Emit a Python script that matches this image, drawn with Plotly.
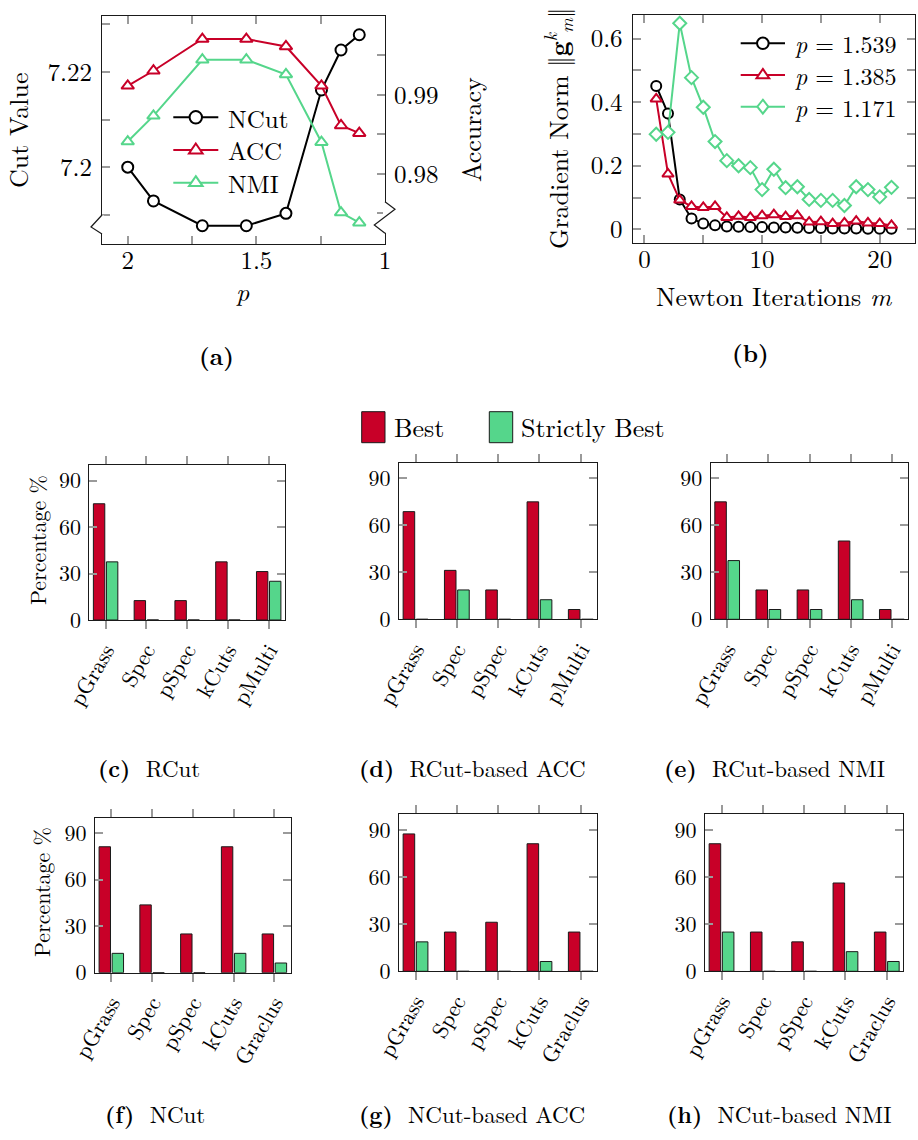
import plotly.graph_objects as go

W, H = 918, 1140
FONT = "Latin Modern Roman"
RED = "#C80028"
GREEN = "#55D68B"
FRAME = "#1a1a1a"
TICKC = "#9a9a9a"

# ---------------- data: panel (a) ----------------
p_vals = [2.0, 1.9, 1.71, 1.539, 1.385, 1.247, 1.171, 1.1]
ncut_vals = [7.2000, 7.1929, 7.1877, 7.1877, 7.1903, 7.2162, 7.2246, 7.2278]
acc_vals = [0.99114, 0.99304, 0.99705, 0.99705, 0.99611, 0.99114, 0.98612, 0.98515]
nmi_vals = [0.98409, 0.98734, 0.99443, 0.99443, 0.99257, 0.98401, 0.97511, 0.97384]

# ---------------- data: panel (b) ----------------
iters = list(range(1, 22))
g_p1539 = [0.451, 0.364, 0.094, 0.034, 0.018, 0.0125, 0.009, 0.008, 0.007, 0.007, 0.006,
           0.006, 0.005, 0.004, 0.004, 0.003, 0.003, 0.003, 0.002, 0.002, 0.002]
g_p1385 = [0.41, 0.174, 0.092, 0.072, 0.069, 0.072, 0.0375, 0.041, 0.0375, 0.043, 0.046,
           0.04, 0.043, 0.023, 0.024, 0.018, 0.02, 0.026, 0.02, 0.018, 0.0125]
g_p1171 = [0.299, 0.305, 0.648, 0.477, 0.384, 0.276, 0.216, 0.2, 0.194, 0.125, 0.189,
           0.131, 0.134, 0.094, 0.091, 0.091, 0.075, 0.134, 0.125, 0.102, 0.132]

# ---------------- data: bar panels ----------------
methods_r = ["pGrass", "Spec", "pSpec", "kCuts", "pMulti"]
methods_n = ["pGrass", "Spec", "pSpec", "kCuts", "Graclus"]
rcut_best = [75, 12.5, 12.5, 37.5, 31.25]
rcut_strict = [37.5, 0, 0, 0, 25]
racc_best = [68.75, 31.25, 18.75, 75, 6.25]
racc_strict = [0, 18.75, 0, 12.5, 0]
rnmi_best = [75, 18.75, 18.75, 50, 6.25]
rnmi_strict = [37.5, 6.25, 6.25, 12.5, 0]
ncut_best = [81.25, 43.75, 25, 81.25, 25]
ncut_strict = [12.5, 0, 0, 12.5, 6.25]
nacc_best = [87.5, 25, 31.25, 81.25, 25]
nacc_strict = [18.75, 0, 0, 6.25, 0]
nnmi_best = [81.25, 25, 18.75, 56.25, 25]
nnmi_strict = [25, 0, 0, 12.5, 6.25]


def fx(x):
    return x / W


def fy(y):
    return 1 - y / H


def dx(x0, x1):
    return [x0 / W, x1 / W]


def dy(y0, y1):
    return [1 - y1 / H, 1 - y0 / H]


fig = go.Figure()

# ---------------- panel (a) traces ----------------
fig.add_trace(go.Scatter(x=p_vals, y=ncut_vals, name="NCut", mode="lines+markers",
                         line=dict(color="black", width=2),
                         marker=dict(symbol="circle", size=11, color="white",
                                     line=dict(color="black", width=2)),
                         xaxis="x", yaxis="y", showlegend=False))
fig.add_trace(go.Scatter(x=p_vals, y=acc_vals, name="ACC", mode="lines+markers",
                         line=dict(color=RED, width=2),
                         marker=dict(symbol="triangle-up", size=11, color="white",
                                     line=dict(color=RED, width=2)),
                         xaxis="x", yaxis="y2", showlegend=False))
fig.add_trace(go.Scatter(x=p_vals, y=nmi_vals, name="NMI", mode="lines+markers",
                         line=dict(color=GREEN, width=2),
                         marker=dict(symbol="triangle-up", size=11, color="white",
                                     line=dict(color=GREEN, width=2)),
                         xaxis="x", yaxis="y2", showlegend=False))

# ---------------- panel (b) traces ----------------
fig.add_trace(go.Scatter(x=iters, y=g_p1539, name="p = 1.539", mode="lines+markers",
                         line=dict(color="black", width=2),
                         marker=dict(symbol="circle", size=10, color="white",
                                     line=dict(color="black", width=2)),
                         xaxis="x2", yaxis="y3", showlegend=False))
fig.add_trace(go.Scatter(x=iters, y=g_p1385, name="p = 1.385", mode="lines+markers",
                         line=dict(color=RED, width=2),
                         marker=dict(symbol="triangle-up", size=10, color="white",
                                     line=dict(color=RED, width=2)),
                         xaxis="x2", yaxis="y3", showlegend=False))
fig.add_trace(go.Scatter(x=iters, y=g_p1171, name="p = 1.171", mode="lines+markers",
                         line=dict(color=GREEN, width=2),
                         marker=dict(symbol="diamond", size=10, color="white",
                                     line=dict(color=GREEN, width=2)),
                         xaxis="x2", yaxis="y3", showlegend=False))

# ---------------- bar panels ----------------
bar_panels = [
    (methods_r, rcut_best, rcut_strict, (89.3, 285.0), (465.0, 620.0)),
    (methods_r, racc_best, racc_strict, (399.0, 597.3), (462.7, 619.3)),
    (methods_r, rnmi_best, rnmi_strict, (710.7, 908.3), (462.7, 619.3)),
    (methods_n, ncut_best, ncut_strict, (95.0, 290.7), (817.7, 972.7)),
    (methods_n, nacc_best, nacc_strict, (399.0, 597.3), (814.3, 971.3)),
    (methods_n, nnmi_best, nnmi_strict, (705.0, 903.3), (814.3, 971.3)),
]

BFS = 22
layout_axes = {}
for i, (cats, best, strict, xr, yr) in enumerate(bar_panels):
    xi = i + 3
    yi = i + 4
    fig.add_trace(go.Bar(x=cats, y=best, name="Best", showlegend=False,
                         marker=dict(color=RED, line=dict(color=FRAME, width=1)),
                         xaxis=f"x{xi}", yaxis=f"y{yi}"))
    fig.add_trace(go.Bar(x=cats, y=strict, name="Strictly Best", showlegend=False,
                         marker=dict(color=GREEN, line=dict(color=FRAME, width=1)),
                         xaxis=f"x{xi}", yaxis=f"y{yi}"))
    layout_axes[f"xaxis{xi}"] = dict(
        domain=dx(*xr), anchor=f"y{yi}", type="category", range=[-0.4, 4.4],
        automargin=False,
        showline=True, linecolor=FRAME, linewidth=1, mirror="allticks",
        ticks="outside", ticklen=8, tickcolor=TICKC, tickwidth=1.5,
        tickangle=-60, tickfont=dict(size=BFS, family=FONT, color="black"),
        showgrid=False, zeroline=False, fixedrange=True)
    layout_axes[f"yaxis{yi}"] = dict(
        domain=dy(*yr), anchor=f"x{xi}", range=[0, 100], automargin=False,
        tickvals=[0, 30, 60, 90], ticktext=["0", "30", "60", "90"],
        showline=True, linecolor=FRAME, linewidth=1, mirror="allticks",
        ticks="inside", ticklen=8, tickcolor=TICKC, tickwidth=1.5, ticklabelstandoff=3,
        tickfont=dict(size=BFS, family=FONT, color="black"),
        showgrid=False, zeroline=False, fixedrange=True)

# ---------------- axes (a) and (b) ----------------
TFS = 25
common_tick = dict(ticks="inside", ticklen=8, tickcolor=TICKC, tickwidth=1.5, automargin=False,
                   showgrid=False, zeroline=False, showline=True, linecolor=FRAME,
                   linewidth=1.2, tickfont=dict(size=TFS, family=FONT, color="black"))


def minor(vals):
    return dict(tickvals=vals, ticks="inside", ticklen=8, tickcolor=TICKC, tickwidth=1.5)


layout_axes["xaxis"] = dict(domain=dx(102, 385), anchor="y", range=[2.1, 1.0],
                            tickvals=[2, 1.5, 1], ticktext=["2", "1.5", "1"],
                            minor=minor([1.75, 1.25]), ticklabelstandoff=-6,
                            mirror="allticks", **common_tick)
layout_axes["yaxis"] = dict(domain=dy(15.7, 244.3), anchor="x", range=[7.1838, 7.2318],
                            tickvals=[7.2, 7.22], ticktext=["7.2", "7.22"], side="left",
                            minor=minor([7.19, 7.21, 7.23]), ticklabelstandoff=4,
                            mirror=False, **common_tick)
layout_axes["yaxis2"] = dict(anchor="x", overlaying="y", side="right", range=[0.9711, 1.0],
                             tickvals=[0.98, 0.99, 1.0], ticktext=["0.98", "0.99", "1"],
                             minor=minor([0.975, 0.985, 0.995]), ticklabelstandoff=3,
                             mirror=False, **common_tick)
layout_axes["xaxis2"] = dict(domain=dx(632.7, 915), anchor="y3", range=[-1, 23],
                             tickvals=[0, 10, 20], ticktext=["0", "10", "20"],
                             minor=minor([5, 15]), ticklabelstandoff=-6,
                             mirror="allticks", **common_tick)
layout_axes["yaxis3"] = dict(domain=dy(15, 242.7), anchor="x2", range=[-0.042, 0.674],
                             tickvals=[0, 0.2, 0.4, 0.6], ticktext=["0", "0.2", "0.4", "0.6"],
                             minor=minor([0.1, 0.3, 0.5]), ticklabelstandoff=4,
                             mirror="allticks", **common_tick)

# ---------------- annotations ----------------
ann = []


def text(x, y, s, size, angle=0, xanchor="center", yanchor="middle"):
    ann.append(dict(x=fx(x), y=fy(y), xref="paper", yref="paper", text=s, showarrow=False,
                    textangle=angle, xanchor=xanchor, yanchor=yanchor,
                    font=dict(size=size, family=FONT, color="black")))


text(17, 130, "Cut Value", 26, angle=-90)
text(470, 130, "Accuracy", 26, angle=-90)
text(243, 290, "<i>p</i>", 26)
text(557, 129, "Gradient Norm \u2016<b>g</b><sup><i>k</i></sup><sub><i>m</i></sub>\u2016", 26, angle=-90)
text(774, 295, "Newton Iterations <i>m</i>", 26)
text(216, 355, "<b>(a)</b>", 24)
text(750, 352, "<b>(b)</b>", 24)

text(391.7, 427, "Best", 26, xanchor="left")
text(519.3, 427, "Strictly Best", 26, xanchor="left")

text(37, 540, "Percentage %", BFS, angle=-90)
text(40, 892, "Percentage %", BFS, angle=-90)

text(96, 767, "<b>(c)</b>  RCut", 23, xanchor="left")
text(357, 767, "<b>(d)</b>  RCut-based ACC", 23, xanchor="left")
text(662, 767, "<b>(e)</b>  RCut-based NMI", 23, xanchor="left")
text(103, 1113, "<b>(f)</b>  NCut", 23, xanchor="left")
text(357, 1113, "<b>(g)</b>  NCut-based ACC", 23, xanchor="left")
text(665, 1113, "<b>(h)</b>  NCut-based NMI", 23, xanchor="left")

# ---------------- shapes: legend boxes and axis breaks ----------------
shapes = [
    dict(type="rect", xref="paper", yref="paper", x0=fx(361.7), x1=fx(385), y0=fy(442.7), y1=fy(411.7),
         fillcolor=RED, line=dict(color=FRAME, width=1)),
    dict(type="rect", xref="paper", yref="paper", x0=fx(489.3), x1=fx(512.7), y0=fy(442.7), y1=fy(411.7),
         fillcolor=GREEN, line=dict(color=FRAME, width=1)),
    # cover spine segments for the breaks
    dict(type="line", xref="paper", yref="paper", x0=fx(102), x1=fx(102), y0=fy(215.5), y1=fy(233.5),
         line=dict(color="white", width=4)),
    dict(type="line", xref="paper", yref="paper", x0=fx(385), x1=fx(385), y0=fy(202.2), y1=fy(232.8),
         line=dict(color="white", width=4)),
]


def path(points, close=False):
    s = "M " + " L ".join(f"{fx(a):.5f},{fy(b):.5f}" for a, b in points)
    return s + (" Z" if close else "")


shapes.append(dict(type="path", xref="paper", yref="paper",
                   path=path([(102, 215), (91, 227), (102, 234)]),
                   line=dict(color=FRAME, width=1.2)))
shapes.append(dict(type="path", xref="paper", yref="paper",
                   path=path([(385, 201.7), (395, 209.3), (374.3, 225), (385, 233.3)]),
                   line=dict(color=FRAME, width=1.2)))


# ---------------- manual legends (line + marker + text) ----------------
def legend_entry(x0, x1, y, color, symbol, label, r, size):
    shapes.append(dict(type="line", xref="paper", yref="paper", x0=fx(x0), x1=fx(x1),
                       y0=fy(y), y1=fy(y), line=dict(color=color, width=2)))
    cx = (x0 + x1) / 2
    if symbol == "circle":
        shapes.append(dict(type="circle", xref="paper", yref="paper",
                           x0=fx(cx - r), x1=fx(cx + r), y0=fy(y + r), y1=fy(y - r),
                           fillcolor="white", line=dict(color=color, width=2)))
    elif symbol == "triangle":
        pts = [(cx, y - r * 1.05), (cx + r * 1.1, y + r * 0.55), (cx - r * 1.1, y + r * 0.55)]
        shapes.append(dict(type="path", xref="paper", yref="paper", path=path(pts, True),
                           fillcolor="white", line=dict(color=color, width=2)))
    else:
        pts = [(cx, y - r * 1.2), (cx + r * 0.95, y), (cx, y + r * 1.2), (cx - r * 0.95, y)]
        shapes.append(dict(type="path", xref="paper", yref="paper", path=path(pts, True),
                           fillcolor="white", line=dict(color=color, width=2)))
    text(x1 + 7.5, y, label, size, xanchor="left")


legend_entry(173.3, 218.3, 117.3, "black", "circle", "NCut", 6.2, 25)
legend_entry(173.3, 218.3, 150.0, RED, "triangle", "ACC", 6.2, 25)
legend_entry(173.3, 218.3, 182.7, GREEN, "triangle", "NMI", 6.2, 25)

legend_entry(740.7, 785.0, 43.3, "black", "circle", "<i>p</i> = 1.539", 5.8, 24)
legend_entry(740.7, 785.0, 75.0, RED, "triangle", "<i>p</i> = 1.385", 5.8, 24)
legend_entry(740.7, 785.0, 106.7, GREEN, "diamond", "<i>p</i> = 1.171", 5.8, 24)

fig.update_layout(
    template="none",
    width=W, height=H, margin=dict(l=0, r=0, t=0, b=0, autoexpand=False),
    paper_bgcolor="white", plot_bgcolor="white",
    font=dict(family=FONT, color="black"),
    barmode="group", bargap=0.36, bargroupgap=0.125,
    showlegend=False,
    annotations=ann, shapes=shapes,
    **layout_axes,
)

fig.write_html("out.html")
